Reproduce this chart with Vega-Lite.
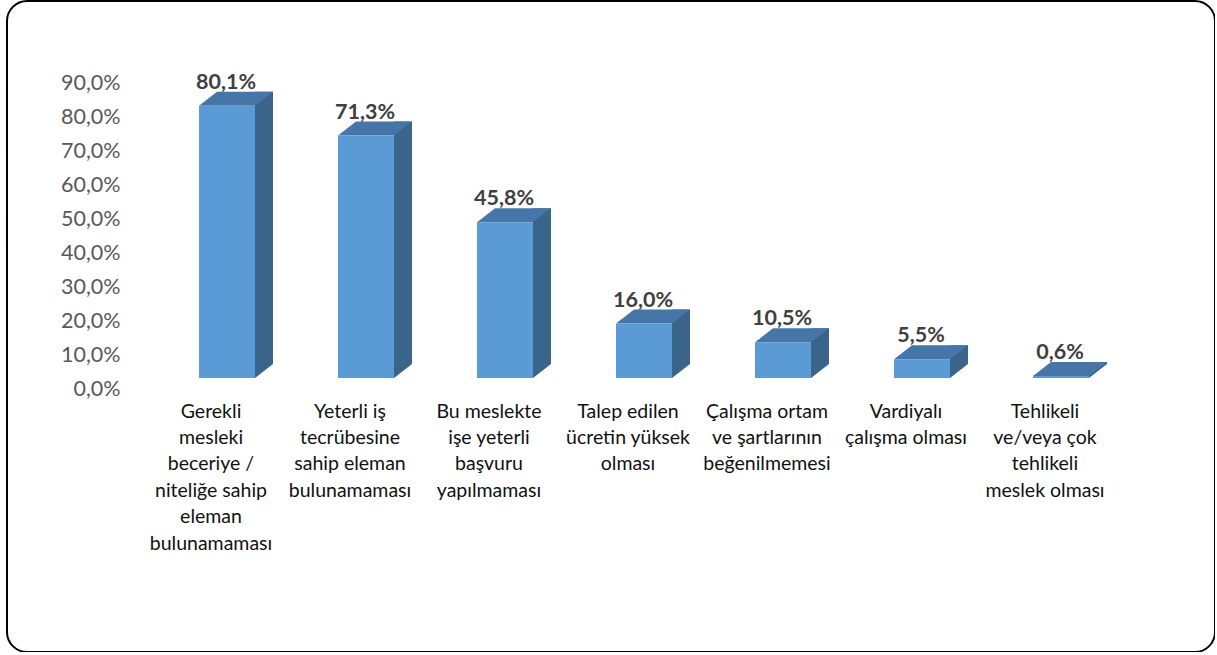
{
  "$schema": "https://vega.github.io/schema/vega-lite/v6.json",
  "width": 1208,
  "height": 651,
  "autosize": {"type": "none"},
  "padding": {"left": 7, "top": 1, "right": 0, "bottom": 0},
  "background": "white",
  "config": {
    "view": {"stroke": "#000000", "strokeWidth": 2, "cornerRadius": 20, "fill": "white"},
    "locale": {"number": {"decimal": ",", "thousands": ".", "grouping": [3], "currency": ["", " TL"]}},
    "axis": {"grid": false, "domain": false, "ticks": false, "tickSize": 0}
  },
  "data": {
    "values": [
      {"k": "Gerekli|mesleki|beceriye /|niteliğe sahip|eleman|bulunamaması", "v": 0.801},
      {"k": "Yeterli iş|tecrübesine|sahip eleman|bulunamaması", "v": 0.713},
      {"k": "Bu meslekte|işe yeterli|başvuru|yapılmaması", "v": 0.458},
      {"k": "Talep edilen|ücretin yüksek|olması", "v": 0.16},
      {"k": "Çalışma ortam|ve şartlarının|beğenilmemesi", "v": 0.105},
      {"k": "Vardiyalı|çalışma olması", "v": 0.055},
      {"k": "Tehlikeli|ve/veya çok|tehlikeli|meslek olması", "v": 0.006}
    ]
  },
  "encoding": {
    "x": {
      "field": "k", "type": "nominal", "sort": null, "title": null,
      "scale": {"range": [150.5, 1123.5], "paddingInner": 0, "paddingOuter": 0},
      "axis": {
        "orient": "bottom", "offset": -250, "labelPadding": 0, "labelAngle": 0,
        "labelExpr": "split(datum.label, '|')", "labelLineHeight": 26.4,
        "labelFont": "Lato", "labelFontSize": 19.5, "labelColor": "#111111",
        "labelBaseline": "top", "labelOffset": -16, "labelLimit": 0
      }
    },
    "y": {
      "field": "v", "type": "quantitative", "title": null,
      "scale": {"domain": [0, 0.9], "range": [377, 71]},
      "axis": {
        "orient": "left", "offset": -113, "labelPadding": 0,
        "values": [0, 0.1, 0.2, 0.3, 0.4, 0.5, 0.6, 0.7, 0.8, 0.9],
        "format": ".1%", "labelFont": "Lato", "labelFontSize": 21.5,
        "labelColor": "#595959", "labelOffset": 11
      }
    }
  },
  "layer": [
    {
      "mark": {"type": "bar", "width": 18, "xOffset": 37, "yOffset": -14, "y2Offset": -14, "color": "#3a6489"}
    },
    {
      "mark": {"type": "point", "shape": "M28,0L28,-14L46,-14Z", "size": 4, "filled": true, "opacity": 1, "color": "#3a6489", "strokeWidth": 0},
      "encoding": {"y": {"datum": 0, "type": "quantitative"}}
    },
    {
      "mark": {"type": "point", "shape": "M-28,0L28,0L46,-14L-10,-14Z", "size": 4, "filled": true, "opacity": 1, "color": "#4676a8", "strokeWidth": 0}
    },
    {
      "mark": {"type": "bar", "width": 56, "color": "#5b9bd5"}
    },
    {
      "mark": {"type": "text", "dy": -17, "dx": -1, "baseline": "alphabetic", "font": "Lato", "fontSize": 21.5, "fontWeight": "bold", "color": "#404040"},
      "encoding": {"text": {"field": "v", "type": "quantitative", "format": ".1%"}}
    }
  ]
}
